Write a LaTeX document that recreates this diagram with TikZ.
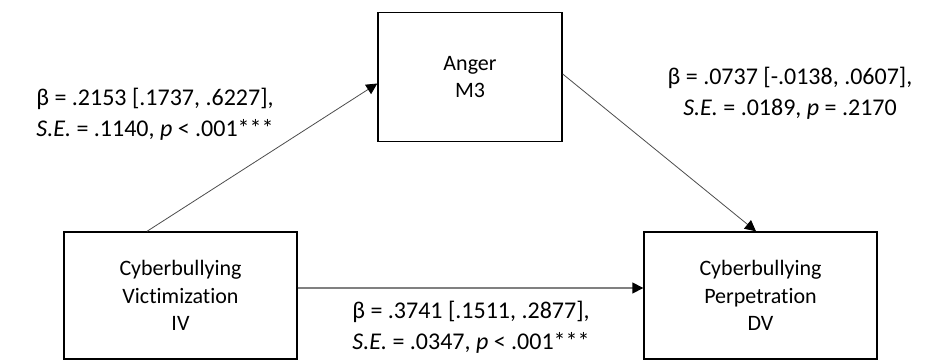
\documentclass[tikz,border=0pt]{standalone}
\usepackage{fontspec}
\setmainfont[Ligatures=NoCommon]{Carlito}
\usetikzlibrary{arrows.meta}
\begin{document}
\begin{tikzpicture}[x=1pt,y=1pt,
  box/.style={draw=black, line width=1.4pt, inner sep=0pt, align=center,
    minimum width=233, minimum height=127, font=\fontsize{22}{27.5}\selectfont},
  lbl/.style={align=center, inner sep=0pt, font=\fontsize{24}{31}\selectfont},
  link/.style={draw=black!70, line width=0.8pt, -{Triangle[length=11pt,width=11pt,fill=black,color=black]}},
  direct/.style={link, draw=black!50, line width=1.5pt}]
\useasboundingbox (0,0) rectangle (933,360);
\clip (0,0) rectangle (933,360);

% variables
\node[box, minimum width=184, minimum height=129] (m) at (470,283) {Anger\\M3};
\node[box] (iv) at (180.5,64.5) {Cyberbullying\\Victimization\\IV};
\node[box] (dv) at (760.5,64.5) {Cyberbullying\\Perpetration\\DV};

% paths
\draw[link] ([xshift=-33.5pt]iv.north) -- ([yshift=-6.5pt]m.west);
\draw[link] ([yshift=3pt]m.east) -- ([xshift=-4.5pt]dv.north);
\draw[direct] ([yshift=7.5pt]iv.east) -- ([yshift=7.5pt]dv.west);

% coefficients
\node[lbl] (la) at (155,246) {β = .2153 [.1737, .6227],\\\textit{S.E.} = .1140, \textit{p} < .001***};
\node[lbl] (lb) at (790,267) {β = .0737 [-.0138, .0607],\\\textit{S.E.} = .0189, \textit{p} = .2170};
\node[lbl] (lc) at (471,33) {β = .3741 [.1511, .2877],\\\textit{S.E.} = .0347, \textit{p} < .001***};
\end{tikzpicture}
\end{document}
